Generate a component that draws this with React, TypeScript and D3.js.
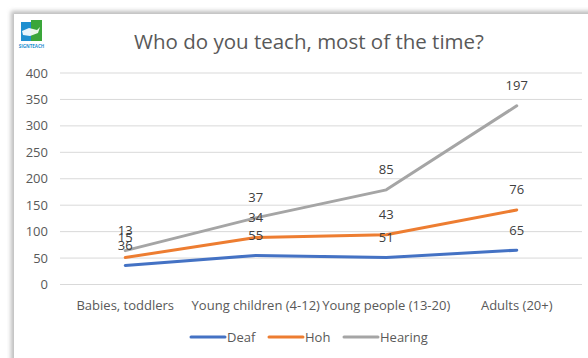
import React from "react";
import * as d3 from "d3";

const categories = ["Babies, toddlers", "Young children (4-12)", "Young people (13-20)", "Adults (20+)"];
const seriesNames = ["Deaf", "Hoh", "Hearing"];
const deaf = [36, 55, 51, 65];
const hoh = [15, 34, 43, 76];
const hearing = [13, 37, 85, 197];
const yTicks = [0, 50, 100, 150, 200, 250, 300, 350, 400];
const colors = ["#4472C4", "#ED7D31", "#A5A5A5"];
const title = "Who do you teach, most of the time?";

const W = 588;
const H = 358;
const FONT = "'Open Sans', Lato, sans-serif";

export default function App() {
  const values = [deaf, hoh, hearing];
  // stacked line: each series sits on top of the previous ones
  const stacked: number[][] = [];
  values.forEach((vals, si) => {
    stacked.push(vals.map((v, i) => v + (si > 0 ? stacked[si - 1][i] : 0)));
  });

  const x = d3.scaleBand<string>().domain(categories).range([60, 582]);
  const y = d3.scaleLinear().domain([0, 400]).range([284.5, 73]);
  const cx = (c: string) => (x(c) as number) + x.bandwidth() / 2;

  const line = d3
    .line<number>()
    .x((_, i) => cx(categories[i]))
    .y((d) => y(d));

  const legendItems = [
    { name: seriesNames[0], x0: 191 },
    { name: seriesNames[1], x0: 269 },
    { name: seriesNames[2], x0: 344 },
  ];

  return (
    <svg
      width={W}
      height={H}
      style={{ position: "absolute", left: 0, top: 0, background: "#fff" }}
      fontFamily={FONT}
    >
      <defs>
        <filter id="shadow" x="-5%" y="-5%" width="110%" height="110%">
          <feGaussianBlur stdDeviation="2" />
        </filter>
      </defs>
      <rect x={11} y={11} width={620} height={400} fill="#bdbdbd" filter="url(#shadow)" />
      <rect x={14} y={14} width={620} height={400} fill="#fff" />

      {/* logo */}
      <g>
        <rect x={21} y={22} width={11} height={19} fill="#1e8fd0" />
        <rect x={31} y={20} width={11} height={21} fill="#3aa63a" />
        <path d="M22,31 L29,28 L37,30 L40,27 L38,33 L30,36 L23,35 Z" fill="#fff" opacity={0.9} />
        <text x={31.5} y={48} fontSize={4.5} fill="#1e8fd0" textAnchor="middle" fontWeight="bold">
          SIGNTEACH
        </text>
      </g>

      <text x={309} y={49} fontSize={20.5} fill="#595959" textAnchor="middle">
        {title}
      </text>

      {yTicks.map((t) => (
        <g key={t}>
          <line x1={60} x2={582} y1={y(t)} y2={y(t)} stroke="#d9d9d9" strokeWidth={1} />
          <text x={48} y={y(t)} dy="0.35em" fontSize={13} fill="#595959" textAnchor="end">
            {t}
          </text>
        </g>
      ))}

      {categories.map((c) => (
        <text key={c} x={cx(c)} y={305} dy="0.35em" fontSize={13} fill="#595959" textAnchor="middle">
          {c}
        </text>
      ))}

      {stacked.map((s, si) => (
        <path
          key={si}
          d={line(s) || ""}
          fill="none"
          stroke={colors[si]}
          strokeWidth={3}
          strokeLinecap="round"
          strokeLinejoin="round"
        />
      ))}

      {stacked.map((s, si) =>
        s.map((v, i) => (
          <text
            key={si + "-" + i}
            x={cx(categories[i])}
            y={y(v) - 20}
            dy="0.35em"
            fontSize={13}
            fill="#404040"
            textAnchor="middle"
          >
            {values[si][i]}
          </text>
        ))
      )}

      {legendItems.map((it, i) => (
        <g key={it.name}>
          <line
            x1={it.x0}
            x2={it.x0 + 34}
            y1={337}
            y2={337}
            stroke={colors[i]}
            strokeWidth={3}
            strokeLinecap="round"
          />
          <text x={it.x0 + 36} y={337} dy="0.35em" fontSize={13} fill="#595959">
            {it.name}
          </text>
        </g>
      ))}
    </svg>
  );
}
